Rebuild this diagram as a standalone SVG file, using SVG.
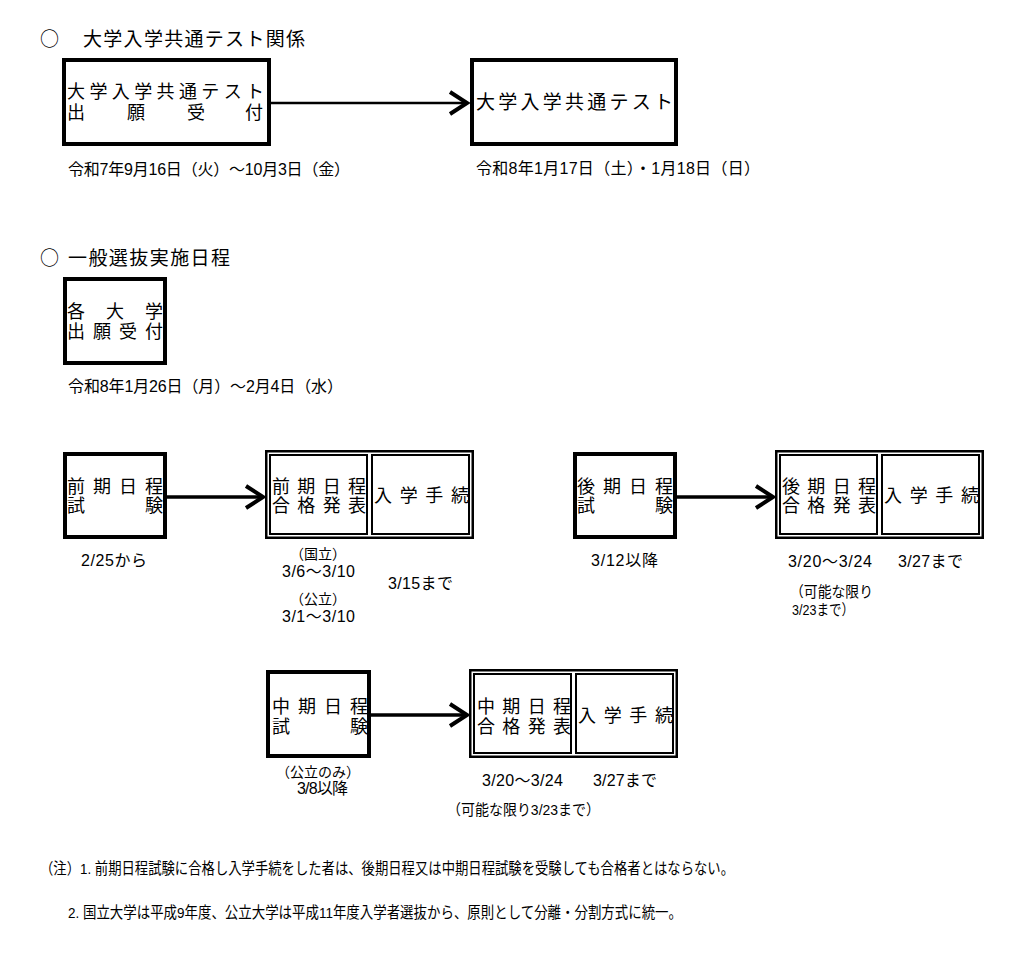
<svg xmlns="http://www.w3.org/2000/svg" width="1024" height="959" viewBox="0 0 1024 959">
<defs>
<style>
.t{font-family:"Liberation Sans","Noto Sans CJK JP",sans-serif;fill:#000}
.c{font-family:"Noto Sans CJK JP",sans-serif;font-size:19px;fill:#000}
.h{font-size:19px}
.b{font-size:18px}
.d{font-size:16px}
.s{font-size:15px}
.p{font-size:14px}
.n{font-size:15.5px}
.box{fill:#fff;stroke:#000;stroke-width:4}
.outer{fill:#fff;stroke:#000;stroke-width:2.5}
.cell{fill:#fff;stroke:#000;stroke-width:2}
.conn{stroke:#000;stroke-width:3.5;fill:none}
.conn2{stroke:#000;stroke-width:2.5;fill:none}
.head{stroke:#000;stroke-width:4;fill:none;stroke-linejoin:miter;stroke-linecap:butt}
</style>
</defs>
<rect width="1024" height="959" fill="#fff"/>

<g id="title1">
<text class="c" x="40" y="46">○</text>
<text class="t h" x="83" y="46" textLength="222">大学入学共通テスト関係</text>
</g>
<g id="title2">
<text class="c" x="40" y="265">○</text>
<text class="t h" x="68" y="265" textLength="162">一般選抜実施日程</text>
</g>

<g id="connectors">
<line class="conn2" x1="271" y1="103" x2="467" y2="103"/>
<polyline class="head" points="450,92 467,103 450,114"/>
<line class="conn" x1="167" y1="497" x2="263" y2="497"/>
<polyline class="head" points="246,486 263,497 246,508"/>
<line class="conn" x1="677" y1="497" x2="773" y2="497"/>
<polyline class="head" points="756,486 773,497 756,508"/>
<line class="conn" x1="371" y1="715" x2="467" y2="715"/>
<polyline class="head" points="450,704 467,715 450,726"/>
</g>

<g id="node-test-apply">
<rect class="box" x="64" y="60" width="205" height="84"/>
<text class="t b" x="67" y="98" textLength="197">大学入学共通テスト</text>
<text class="t b" x="67 127 187 245" y="119">出願受付</text>
<text class="t d" x="68" y="175" textLength="282">令和7年9月16日（火）～10月3日（金）</text>
</g>

<g id="node-test">
<rect class="box" x="472" y="60" width="204" height="84"/>
<text class="t h" x="476" y="109" textLength="197">大学入学共通テスト</text>
<text class="t d" x="476" y="174" textLength="284">令和8年1月17日（土）・1月18日（日）</text>
</g>

<g id="node-univ-apply">
<rect class="box" x="65" y="279" width="100" height="84"/>
<text class="t b" x="67 106 145" y="318">各大学</text>
<text class="t b" x="67" y="338" textLength="96">出願受付</text>
<text class="t d" x="68" y="392" textLength="275">令和8年1月26日（月）～2月4日（水）</text>
</g>

<g id="node-zenki-exam">
<rect class="box" x="65" y="454" width="100" height="83"/>
<text class="t b" x="67" y="493" textLength="96">前期日程</text>
<text class="t b" x="67 145" y="512">試験</text>
<text class="t d" x="81" y="566" textLength="66">2/25から</text>
</g>

<g id="node-zenki-result">
<rect class="outer" x="266.25" y="451.25" width="206.5" height="86.5"/>
<rect class="cell" x="270" y="455" width="97" height="79"/>
<rect class="cell" x="372" y="455" width="97" height="79"/>
<text class="t b" x="272" y="493" textLength="94">前期日程</text>
<text class="t b" x="272" y="512" textLength="94">合格発表</text>
<text class="t b" x="374" y="502" textLength="95">入学手続</text>
<text class="t p" x="318" y="559" text-anchor="middle">（国立）</text>
<text class="t d" x="282" y="577" textLength="73">3/6～3/10</text>
<text class="t p" x="318" y="604" text-anchor="middle">（公立）</text>
<text class="t d" x="282" y="622" textLength="73">3/1～3/10</text>
<text class="t d" x="388" y="589" textLength="65">3/15まで</text>
</g>

<g id="node-kouki-exam">
<rect class="box" x="575" y="454" width="100" height="83"/>
<text class="t b" x="577" y="493" textLength="96">後期日程</text>
<text class="t b" x="577 655" y="512">試験</text>
<text class="t d" x="591" y="566" textLength="67">3/12以降</text>
</g>

<g id="node-kouki-result">
<rect class="outer" x="776.25" y="451.25" width="206.5" height="86.5"/>
<rect class="cell" x="780" y="455" width="97" height="79"/>
<rect class="cell" x="882" y="455" width="97" height="79"/>
<text class="t b" x="782" y="493" textLength="94">後期日程</text>
<text class="t b" x="782" y="512" textLength="94">合格発表</text>
<text class="t b" x="884" y="502" textLength="95">入学手続</text>
<text class="t d" x="788" y="567" textLength="84">3/20～3/24</text>
<text class="t d" x="898" y="567" textLength="65">3/27まで</text>
<text class="t s" x="790" y="597" textLength="83" lengthAdjust="spacingAndGlyphs">（可能な限り</text>
<text class="t s" x="792" y="615" textLength="62" lengthAdjust="spacingAndGlyphs">3/23まで）</text>
</g>

<g id="node-chuki-exam">
<rect class="box" x="268" y="672" width="101" height="84"/>
<text class="t b" x="272" y="713" textLength="96">中期日程</text>
<text class="t b" x="272 350" y="733">試験</text>
<text class="t p" x="318" y="777" text-anchor="middle">（公立のみ）</text>
<text class="t d" x="297" y="794" textLength="51">3/8以降</text>
</g>

<g id="node-chuki-result">
<rect class="outer" x="470.25" y="670.25" width="206.5" height="86.5"/>
<rect class="cell" x="474" y="674" width="97" height="79"/>
<rect class="cell" x="576" y="674" width="97" height="79"/>
<text class="t b" x="477" y="713" textLength="94">中期日程</text>
<text class="t b" x="477" y="733" textLength="94">合格発表</text>
<text class="t b" x="578" y="722" textLength="95">入学手続</text>
<text class="t d" x="482" y="786" textLength="81">3/20～3/24</text>
<text class="t d" x="593" y="786" textLength="64">3/27まで</text>
<text class="t s" x="447" y="815" textLength="153" lengthAdjust="spacingAndGlyphs">（可能な限り3/23まで）</text>
</g>

<g id="notes">
<text class="t n" x="40" y="874" textLength="694" lengthAdjust="spacingAndGlyphs">（注）1. 前期日程試験に合格し入学手続をした者は、後期日程又は中期日程試験を受験しても合格者とはならない。</text>
<text class="t n" x="68" y="918" textLength="614" lengthAdjust="spacingAndGlyphs">2. 国立大学は平成9年度、公立大学は平成11年度入学者選抜から、原則として分離・分割方式に統一。</text>
</g>
</svg>
